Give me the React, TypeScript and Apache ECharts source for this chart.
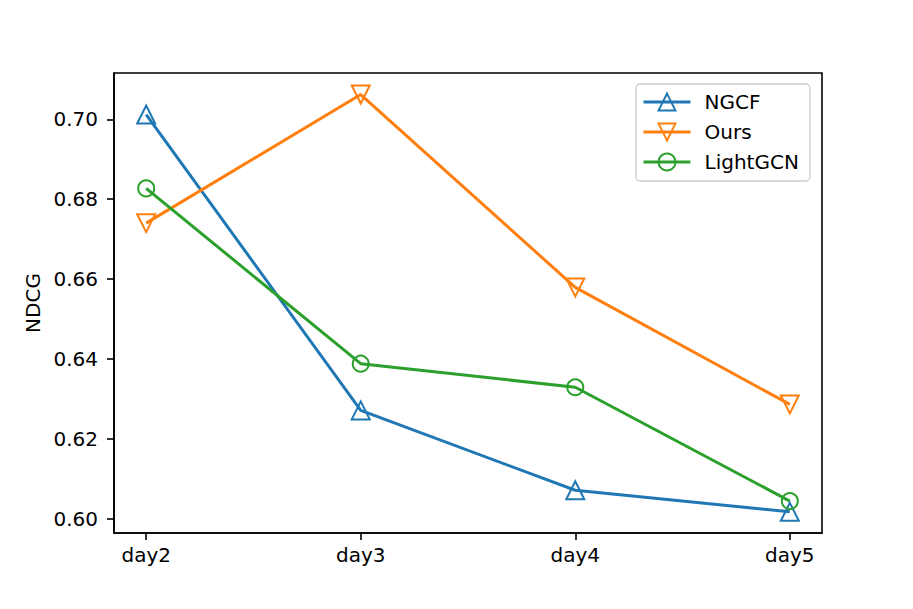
import React, { useEffect, useRef } from "react";
import * as echarts from "echarts";

const categories = ["day2", "day3", "day4", "day5"];
const ngcf = [0.7012, 0.6271, 0.6071, 0.6017];
const ours = [0.674, 0.7062, 0.6579, 0.6286];
const lightgcn = [0.6827, 0.6388, 0.6329, 0.6044];
const yTicks = [0.6, 0.62, 0.64, 0.66, 0.68, 0.7];
const xTicks = [0, 1, 2, 3];

const FONT = "DejaVu Sans";

function mkSeries(name: string, values: number[], color: string, symbol: string, rotate: number, size: number) {
  return {
    name,
    type: "line",
    data: values.map((v, i) => [i, v]),
    symbol,
    symbolSize: size,
    symbolRotate: rotate,
    showAllSymbol: true,
    lineStyle: { color, width: 3 },
    itemStyle: { color: "rgba(255,255,255,0)", borderColor: color, borderWidth: 2 },
    emphasis: { disabled: true },
  };
}

export default function App() {
  const ref = useRef<HTMLDivElement>(null);
  useEffect(() => {
    if (!ref.current) return;
    const chart = echarts.init(ref.current, null, { renderer: "svg" });
    chart.setOption({
      animation: false,
      backgroundColor: "#ffffff",
      textStyle: { fontFamily: FONT },
      grid: {
        left: 114,
        top: 73,
        right: 91,
        bottom: 76,
        show: true,
        borderColor: "#000",
        borderWidth: 1.6,
        backgroundColor: "transparent",
      },
      xAxis: {
        type: "value",
        min: -0.15,
        max: 3.15,
        splitLine: { show: false },
        axisLine: { show: true, onZero: false, lineStyle: { color: "#000", width: 1.6 } },
        axisTick: {
          show: true,
          customValues: xTicks,
          length: 7,
          inside: false,
          lineStyle: { color: "#000", width: 1.6 },
        },
        axisLabel: {
          customValues: xTicks,
          formatter: (v: number) => categories[Math.round(v)] ?? "",
          color: "#000",
          fontSize: 20,
          fontFamily: FONT,
          margin: 12,
        },
      },
      yAxis: {
        type: "value",
        min: 0.5964,
        max: 0.7116,
        name: "NDCG",
        nameLocation: "middle",
        nameGap: 71,
        nameTextStyle: { color: "#000", fontSize: 20, fontFamily: FONT },
        splitLine: { show: false },
        axisLine: { show: true, onZero: false, lineStyle: { color: "#000", width: 1.6 } },
        axisTick: {
          show: true,
          customValues: yTicks,
          length: 7,
          inside: false,
          lineStyle: { color: "#000", width: 1.6 },
        },
        axisLabel: {
          customValues: yTicks,
          formatter: (v: number) => v.toFixed(2),
          color: "#000",
          fontSize: 20,
          fontFamily: FONT,
          margin: 16,
        },
      },
      legend: {
        orient: "vertical",
        left: 636,
        top: 84,
        padding: [8, 11, 9, 6],
        itemWidth: 47,
        itemHeight: 21,
        itemGap: 10,
        backgroundColor: "#ffffff",
        borderColor: "#cccccc",
        borderWidth: 1.3,
        borderRadius: 4,
        lineStyle: { width: 3 },
        textStyle: { color: "#000", fontSize: 20, fontFamily: FONT, padding: [0, 0, 0, 9] },
        data: ["NGCF", "Ours", "LightGCN"],
      },
      series: [
        mkSeries("NGCF", ngcf, "#1f77b4", "triangle", 0, 18),
        mkSeries("Ours", ours, "#ff7f0e", "triangle", 180, 18),
        mkSeries("LightGCN", lightgcn, "#2ca02c", "circle", 0, 16),
      ],
    });
    return () => chart.dispose();
  }, []);
  return (
    <div
      ref={ref}
      style={{ position: "fixed", left: 0, top: 0, width: 913, height: 609, background: "#fff" }}
    />
  );
}
